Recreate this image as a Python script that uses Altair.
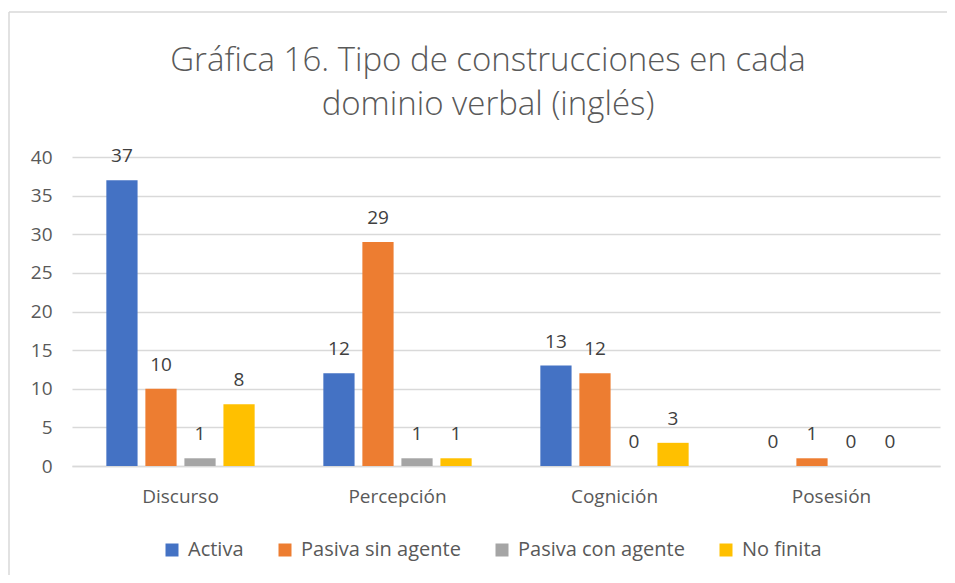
import altair as alt
import pandas as pd

categories = ["Discurso", "Percepción", "Cognición", "Posesión"]
series = ["Activa", "Pasiva sin agente", "Pasiva con agente", "No finita"]
activa = [37, 12, 13, 0]
pasiva_sin_agente = [10, 29, 12, 1]
pasiva_con_agente = [1, 1, 0, 0]
no_finita = [8, 1, 3, 0]
colors = ["#4472C4", "#ED7D31", "#A5A5A5", "#FFC000"]
y_ticks = [0, 5, 10, 15, 20, 25, 30, 35, 40]

values = [activa, pasiva_sin_agente, pasiva_con_agente, no_finita]
rows = []
for s, vals in zip(series, values):
    for c, v in zip(categories, vals):
        rows.append({"dominio": c, "tipo": s, "valor": v})
df = pd.DataFrame(rows)

FONT = "Open Sans"
GREY = "#595959"

x = alt.X("dominio:N", sort=categories, title=None,
          scale=alt.Scale(paddingInner=0, paddingOuter=0),
          axis=alt.Axis(labelAngle=0, ticks=False, domain=True, domainColor="#d9d9d9",
                        domainWidth=1.3,
                        labelFontSize=19, labelColor=GREY, labelFont=FONT, labelPadding=21))
xo = alt.XOffset("tipo:N", sort=series,
                 scale=alt.Scale(paddingInner=0.2, paddingOuter=0.88))
y = alt.Y("valor:Q", title=None,
          scale=alt.Scale(domain=[0, 40], nice=False),
          axis=alt.Axis(values=y_ticks, domain=False, ticks=False, grid=True,
                        gridColor="#d9d9d9", gridWidth=1.3, labelFontSize=19,
                        labelColor=GREY, labelFont=FONT, labelPadding=20))

base = alt.Chart(df)

bars = base.mark_bar().encode(
    x=x, xOffset=xo, y=y,
    color=alt.Color("tipo:N", sort=series,
                    scale=alt.Scale(domain=series, range=colors),
                    legend=alt.Legend(title=None, orient="none", direction="horizontal",
                                      legendX=90, legendY=383, symbolType="square",
                                      symbolSize=169, symbolStrokeWidth=0,
                                      labelFontSize=20, labelColor=GREY, labelFont=FONT,
                                      labelLimit=400,
                                      columnPadding=31, labelOffset=6, padding=0))
)

labels = base.mark_text(baseline="alphabetic", dy=-18, fontSize=19, color="#404040",
                        font=FONT).encode(
    x=x, xOffset=xo, y=y, text="valor:Q"
)

frame_left = alt.Chart(pd.DataFrame({"k": [0]})).mark_rule(color="#d9d9d9", strokeWidth=1.5).encode(
    x=alt.value(-63), y=alt.value(-145), y2=alt.value(430)
)
frame_top = alt.Chart(pd.DataFrame({"k": [0]})).mark_rule(color="#d9d9d9", strokeWidth=1.5).encode(
    x=alt.value(-63), x2=alt.value(900), y=alt.value(-145)
)

chart = alt.layer(frame_left, frame_top, bars, labels).properties(
    width=868, height=309,
    autosize=alt.AutoSizeParams(type="none"),
    padding={"left": 64, "top": 149, "right": 7, "bottom": 109},
    title=alt.Title(["Gráfica 16. Tipo de construcciones en cada", "dominio verbal (inglés)"],
                    fontSize=33, font=FONT, fontWeight=300, color=GREY,
                    lineHeight=44, anchor="middle", dx=-18, baseline="bottom",
                    offset=-144),
).configure(background="white").configure_view(stroke=None)

chart.save("out.html", embed_options={"renderer": "svg", "actions": False})
